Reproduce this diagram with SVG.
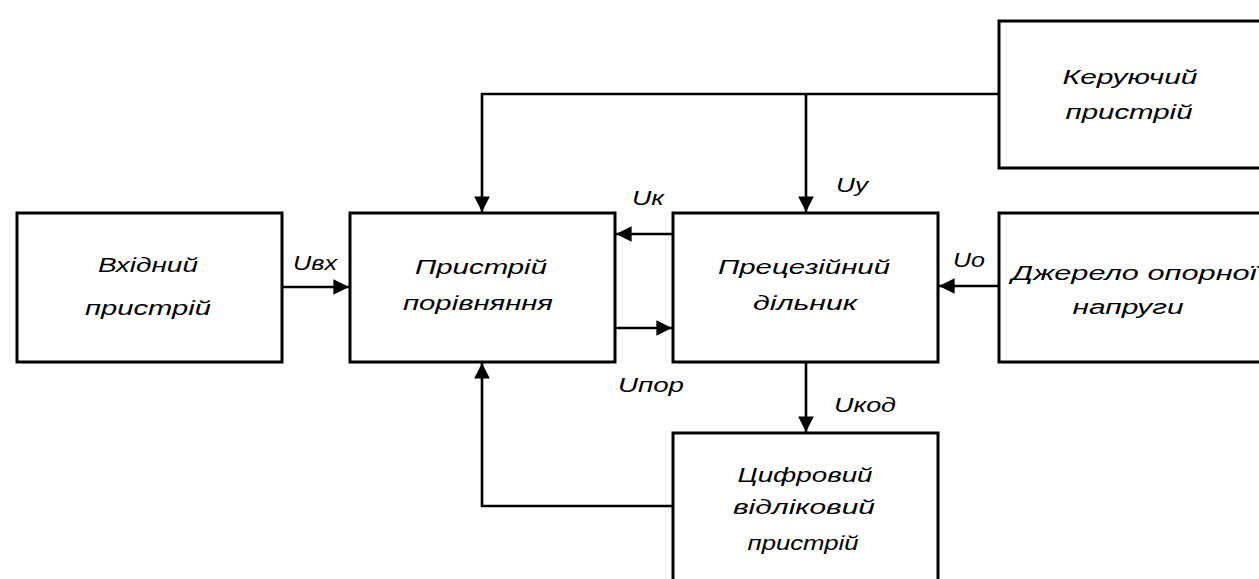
<svg xmlns="http://www.w3.org/2000/svg" width="1259" height="579" viewBox="0 0 1259 579">
<style>
.box{fill:#fff;stroke:#000;stroke-width:3}
.ln{fill:none;stroke:#000;stroke-width:2.6}
.t{font-family:"Liberation Sans",Arial,sans-serif;font-style:italic;font-size:20px;fill:#000;text-anchor:middle}
</style>
<defs>
<marker id="ar" viewBox="0 0 10 10" refX="10" refY="5" markerWidth="6" markerHeight="6" orient="auto" markerUnits="strokeWidth">
<path d="M0,0 L10,5 L0,10 z" fill="#000"/>
</marker>
</defs>
<rect width="1259" height="579" fill="#fff"/>
<g id="connectors">
<path class="ln" d="M282,287 H349" marker-end="url(#ar)"/>
<path class="ln" d="M999,94 H482 V212" marker-end="url(#ar)"/>
<path class="ln" d="M806,94 V212" marker-end="url(#ar)"/>
<path class="ln" d="M673,234 H616" marker-end="url(#ar)"/>
<path class="ln" d="M615,328 H672" marker-end="url(#ar)"/>
<path class="ln" d="M999,286 H939" marker-end="url(#ar)"/>
<path class="ln" d="M806,362 V432" marker-end="url(#ar)"/>
<path class="ln" d="M673,506 H482 V363" marker-end="url(#ar)"/>
<text class="t" x="315" y="270" textLength="44" lengthAdjust="spacingAndGlyphs">Uвх</text>
<text class="t" x="648" y="205" textLength="32" lengthAdjust="spacingAndGlyphs">Uк</text>
<text class="t" x="651" y="392" textLength="66" lengthAdjust="spacingAndGlyphs">Uпор</text>
<text class="t" x="852" y="192" textLength="32" lengthAdjust="spacingAndGlyphs">Uу</text>
<text class="t" x="969" y="267" textLength="32" lengthAdjust="spacingAndGlyphs">Uо</text>
<text class="t" x="865" y="412" textLength="62" lengthAdjust="spacingAndGlyphs">Uкод</text>
</g>
<g id="vhidnyi">
<rect class="box" x="17" y="213" width="265" height="149"/>
<text class="t" x="148" y="272" textLength="100" lengthAdjust="spacingAndGlyphs">Вхідний</text>
<text class="t" x="148" y="315" textLength="126" lengthAdjust="spacingAndGlyphs">пристрій</text>
</g>
<g id="porivniannia">
<rect class="box" x="350" y="213" width="265" height="149"/>
<text class="t" x="481" y="274" textLength="132" lengthAdjust="spacingAndGlyphs">Пристрій</text>
<text class="t" x="478" y="310" textLength="150" lengthAdjust="spacingAndGlyphs">порівняння</text>
</g>
<g id="dilnyk">
<rect class="box" x="673" y="213" width="265" height="149"/>
<text class="t" x="804" y="274" textLength="172" lengthAdjust="spacingAndGlyphs">Прецезійний</text>
<text class="t" x="805" y="310" textLength="104" lengthAdjust="spacingAndGlyphs">дільник</text>
</g>
<g id="dzherelo">
<rect class="box" x="999" y="213" width="275" height="149"/>
<text class="t" x="1134" y="280" textLength="245" lengthAdjust="spacingAndGlyphs">Джерело опорної</text>
<text class="t" x="1128" y="314" textLength="111" lengthAdjust="spacingAndGlyphs">напруги</text>
</g>
<g id="keruiuchyi">
<rect class="box" x="999" y="21" width="275" height="147"/>
<text class="t" x="1130" y="84" textLength="135" lengthAdjust="spacingAndGlyphs">Керуючий</text>
<text class="t" x="1129" y="119" textLength="127" lengthAdjust="spacingAndGlyphs">пристрій</text>
</g>
<g id="tsyfrovyi">
<rect class="box" x="673" y="433" width="265" height="160"/>
<text class="t" x="805" y="482" textLength="135" lengthAdjust="spacingAndGlyphs">Цифровий</text>
<text class="t" x="804" y="514" textLength="142" lengthAdjust="spacingAndGlyphs">відліковий</text>
<text class="t" x="803" y="550" textLength="111" lengthAdjust="spacingAndGlyphs">пристрій</text>
</g>
</svg>
